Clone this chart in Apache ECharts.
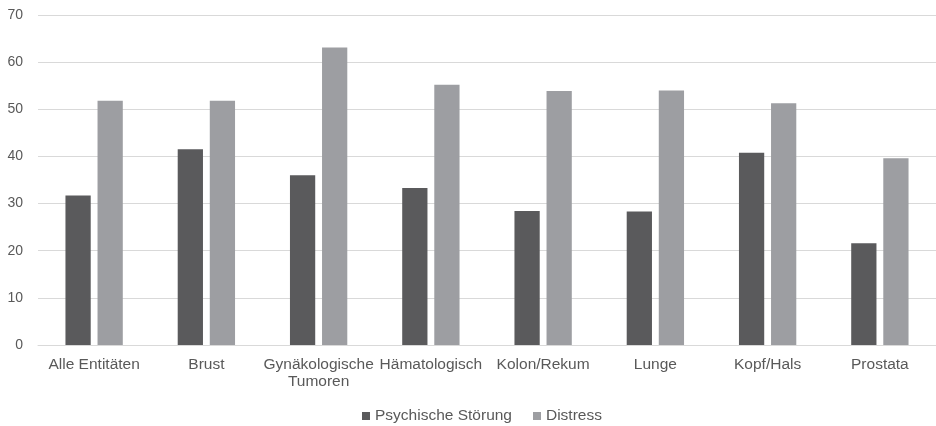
<!DOCTYPE html>
<html>
<head>
<meta charset="utf-8">
<script src="https://cdn.jsdelivr.net/npm/echarts@6/dist/echarts.min.js"></script>
<style>html,body{margin:0;padding:0;background:#fff;}#c{width:936px;height:426px;}</style>
</head>
<body>
<div id="c"></div>
<script>
const categories = ['Alle Entitäten', 'Brust', 'Gynäkologische\nTumoren', 'Hämatologisch', 'Kolon/Rekum', 'Lunge', 'Kopf/Hals', 'Prostata'];
const psychischeStoerung = [31.7, 41.5, 36.0, 33.3, 28.4, 28.3, 40.8, 21.6];
const distress = [51.8, 51.8, 63.1, 55.2, 53.9, 54.0, 51.3, 39.6];
const seriesNames = ['Psychische Störung', 'Distress'];

const chart = echarts.init(document.getElementById('c'), null, {renderer: 'canvas'});
const font = 'Liberation Sans, Arial, sans-serif';
chart.setOption({
  animation: false,
  grid: {left: 38, top: 15, width: 906, height: 330, containLabel: false},
  legend: {
    data: seriesNames,
    top: 403,
    left: 357,
    icon: 'rect',
    itemWidth: 8,
    itemHeight: 8,
    itemGap: 21,
    textStyle: {fontFamily: font, fontSize: 15.5, color: '#595959'}
  },
  xAxis: {
    type: 'category',
    data: categories,
    axisLine: {show: true, lineStyle: {color: '#d9d9d9', width: 1}},
    axisTick: {show: false},
    axisLabel: {fontFamily: font, fontSize: 15.5, color: '#595959', margin: 11, lineHeight: 17, interval: 0}
  },
  yAxis: {
    type: 'value',
    min: 0,
    max: 70,
    interval: 10,
    axisLine: {show: false},
    axisTick: {show: false},
    splitLine: {lineStyle: {color: '#d9d9d9', width: 1}},
    axisLabel: {fontFamily: font, fontSize: 14, color: '#595959', margin: 15}
  },
  series: [
    {
      name: seriesNames[0],
      type: 'bar',
      data: psychischeStoerung,
      barWidth: '22.5%',
      barGap: '27%',
      itemStyle: {color: '#5a5a5c'}
    },
    {
      name: seriesNames[1],
      type: 'bar',
      data: distress,
      barWidth: '22.5%',
      itemStyle: {color: '#9d9ea2'}
    }
  ]
});
</script>
</body>
</html>
